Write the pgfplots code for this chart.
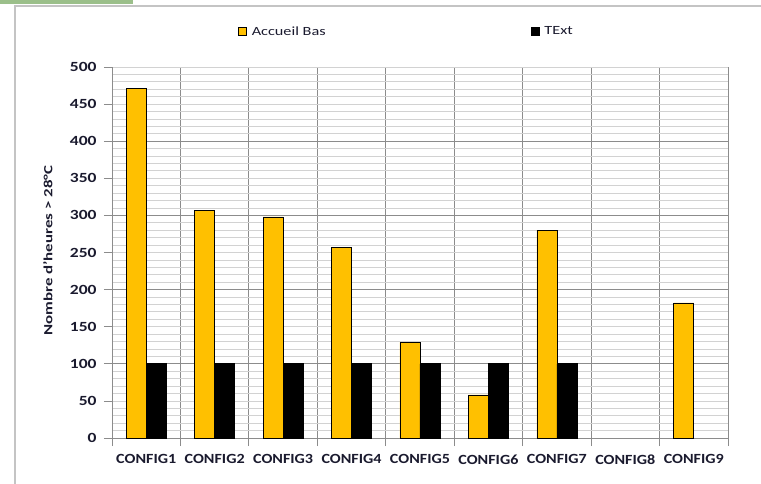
\documentclass[border=0pt]{standalone}
\usepackage{pgfplots}
\pgfplotsset{compat=1.18}
\usepackage{fontspec}
\setmainfont{Carlito}
\definecolor{barorange}{HTML}{FFC000}
\definecolor{gridmaj}{HTML}{8C8C8C}
\definecolor{gridmin}{HTML}{D2D2D2}
\definecolor{framegray}{HTML}{C4C4C4}
\definecolor{topgreen}{HTML}{9BBF8A}
\definecolor{txt}{HTML}{1A1A2E}
\begin{document}
\begin{tikzpicture}[x=1pt,y=1pt]
\path[use as bounding box] (-112,-45) rectangle (649,438);
\begin{axis}[
  scale only axis,
  width=616pt, height=371pt,
  at={(0,0)}, anchor=south west,
  xmin=-0.5, xmax=8.5,
  ymin=0, ymax=500,
  ytick={0,50,...,500},
  minor ytick={0,10,...,500},
  xtick={0,...,8},
  xticklabels={CONFIG1,CONFIG2,CONFIG3,CONFIG4,CONFIG5,CONFIG6,CONFIG7,CONFIG8,CONFIG9},
  minor xtick={-0.5,0.5,...,8.5},
  major x tick style={draw=none},
  tick align=outside,
  major tick length=8pt,
  minor tick length=8pt,
  tick style={gridmaj, line width=0.8pt},
  minor y tick style={draw=none},
  ymajorgrids=false,
  yminorgrids=true,
  xminorgrids=true,
  minor grid style={gridmin, line width=0.8pt},
  minor x grid style={gridmaj, line width=0.9pt},
  extra y ticks={100,200,300,400},
  extra y tick labels={},
  extra y tick style={grid=major, major grid style={gridmaj, line width=0.9pt}, major tick length=0pt},
  axis line style={gridmaj, line width=0.9pt},
  axis x line*=bottom,
  axis y line*=left,
  ticklabel style={font=\fontsize{14}{15}\selectfont\bfseries, text=txt},
  /pgf/number format/assume math mode=true,
  xticklabel style={yshift=-5pt, xscale=1.15},
  yticklabel style={xshift=-3pt, xscale=1.25},
  ylabel={\scalebox{1.35}[1]{Nombre d'heures > 28°C}},
  ylabel style={font=\fontsize{12.5}{13}\selectfont\bfseries, text=txt, at={(axis description cs:-0.104,0.505)}, anchor=center},
  ybar,
  bar width=20pt,
  legend style={at={(axis description cs:0.478,1)}, anchor=south, yshift=26pt, draw=none, fill=none,
    font=\fontsize{12.5}{13}\selectfont, text=txt, legend columns=2,
    /tikz/every even column/.append style={column sep=203pt}},
  legend image code/.code={\draw[#1, line width=0.9pt] (0pt,-4pt) rectangle (8pt,4pt); \path (11pt,0pt);},
]
\addplot[fill=barorange, draw=black, line width=0.7pt, bar shift=-10pt] coordinates {
(0,471) (1,307) (2,298) (3,257) (4,129) (5,58) (6,280) (8,182)};
\addlegendentry{\scalebox{1.3}[1]{Accueil Bas}}
\addplot[fill=black, draw=black, line width=0.7pt, bar shift=10pt] coordinates {
(0,100) (1,100) (2,100) (3,100) (4,100) (5,100) (6,100)};
\addlegendentry{\scalebox{1.3}[1]{TExt}}
\end{axis}
\draw[framegray, line width=2pt] (-97,-50) -- (-97,432) -- (660,432);
\fill[topgreen] (-112,434) rectangle (21,438);
\end{tikzpicture}
\end{document}
